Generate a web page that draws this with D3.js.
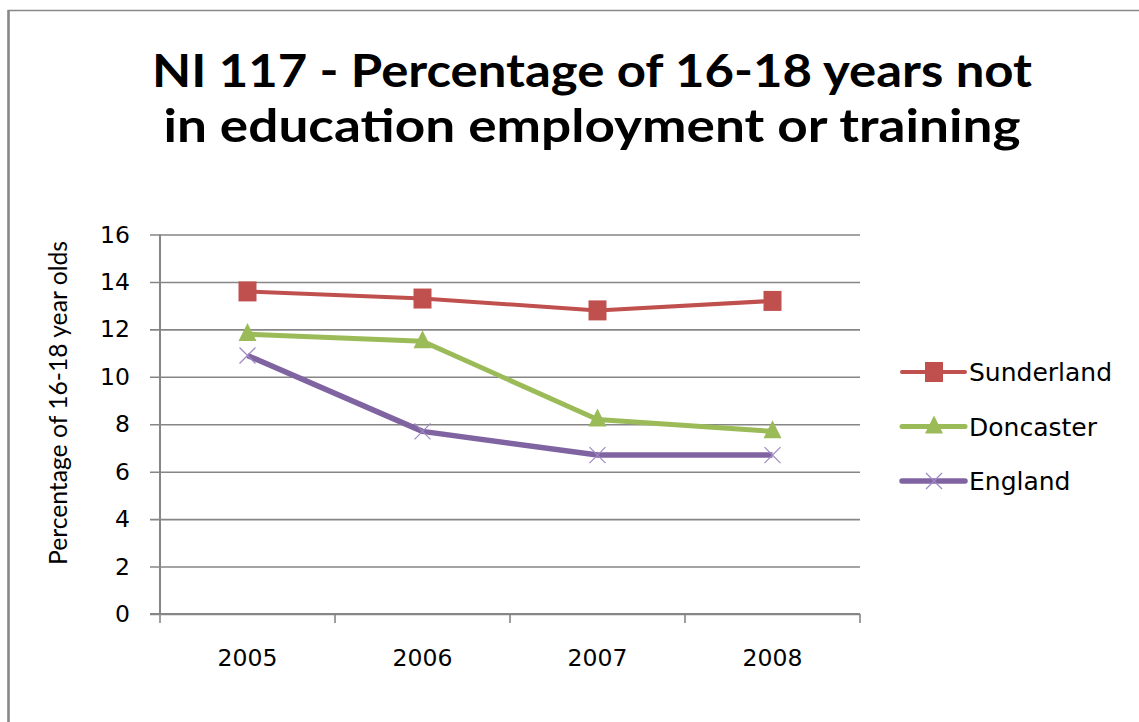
<!DOCTYPE html>
<html>
<head>
<meta charset="utf-8">
<script src="https://cdn.jsdelivr.net/npm/d3@7"></script>
<style>
  html, body { margin: 0; padding: 0; background: #fff; }
  svg { display: block; }
</style>
</head>
<body>
<svg id="chart" width="1139" height="722"></svg>
<script>
// NI 117 – share of 16-18 year olds not in education, employment or training
const years = ["2005", "2006", "2007", "2008"];
const sunderland = [13.6, 13.3, 12.8, 13.2];
const doncaster  = [11.8, 11.5, 8.2, 7.7];
const england    = [10.9, 7.7, 6.7, 6.7];
const seriesNames = ["Sunderland", "Doncaster", "England"];
const yTicks = [0, 2, 4, 6, 8, 10, 12, 14, 16];
const titleLines = [
  "NI 117 - Percentage of 16-18 years not",
  "in education employment or training"
];
const yAxisTitle = "Percentage of 16-18 year olds";

const series = [
  { name: seriesNames[0], values: sunderland, color: "#C0504D", width: 4,   marker: "square" },
  { name: seriesNames[1], values: doncaster,  color: "#9BBB59", width: 5,   marker: "triangle" },
  { name: seriesNames[2], values: england,    color: "#8064A2", width: 5.5, marker: "cross" }
];

const svg = d3.select("#chart");
const W = 1139, H = 722;
const plot = { left: 160, right: 860, top: 234.5, bottom: 614 };

// outer chart frame (top and left edges visible)
svg.append("rect").attr("x", 8.5).attr("y", 10.5)
  .attr("width", W + 20).attr("height", H + 20)
  .attr("fill", "#fff").attr("stroke", "#888").attr("stroke-width", 1.5);
svg.append("line").attr("x1", 8.5).attr("x2", 8.5).attr("y1", 10).attr("y2", H)
  .attr("stroke", "#888").attr("stroke-width", 2.5);

// title
const title = svg.append("text")
  .attr("text-anchor", "middle")
  .attr("font-family", "Lato, 'Open Sans', sans-serif")
  .attr("font-weight", "bold")
  .attr("font-size", 45)
  .attr("fill", "#000");
const titleLens = [880, 857];
titleLines.forEach((t, i) => {
  title.append("tspan")
    .attr("x", 592).attr("y", 87 + i * 55)
    .attr("textLength", titleLens[i])
    .attr("lengthAdjust", "spacingAndGlyphs")
    .text(t);
});

// scales
const x = d3.scaleBand().domain(years).range([plot.left, plot.right]).padding(0);
const y = d3.scaleLinear().domain([0, 16]).range([plot.bottom, plot.top]);
const cx = d => x(d) + x.bandwidth() / 2;

// horizontal gridlines (extend past the axis as tick marks)
const gridAxis = d3.axisLeft(y).tickValues(yTicks)
  .tickSize(-(plot.right - plot.left) - 10).tickFormat(d3.format("d"));
const gy = svg.append("g")
  .attr("transform", `translate(${plot.left - 10},0)`)
  .call(gridAxis);
gy.select(".domain").remove();
gy.selectAll(".tick line").attr("stroke", "#868686").attr("stroke-width", 1.6);
gy.selectAll(".tick text")
  .attr("x", -20)
  .attr("font-family", "'DejaVu Sans', sans-serif")
  .attr("font-size", 23.5).attr("fill", "#000");

// vertical axis line
svg.append("line")
  .attr("x1", plot.left).attr("x2", plot.left)
  .attr("y1", plot.top).attr("y2", plot.bottom)
  .attr("stroke", "#868686").attr("stroke-width", 2);

// x axis with ticks at category boundaries
const gx = svg.append("g").attr("transform", `translate(0,${plot.bottom})`);
gx.append("line")
  .attr("x1", plot.left - 10).attr("x2", plot.right)
  .attr("stroke", "#868686").attr("stroke-width", 2);
const bounds = years.map(d => x(d)).concat([plot.right]);
gx.selectAll("line.bt").data(bounds).join("line").attr("class", "bt")
  .attr("x1", d => d).attr("x2", d => d).attr("y1", 0).attr("y2", 9)
  .attr("stroke", "#868686").attr("stroke-width", 1.6);
gx.selectAll("text").data(years).join("text")
  .attr("x", d => cx(d)).attr("y", 52)
  .attr("text-anchor", "middle")
  .attr("font-family", "'DejaVu Sans', sans-serif")
  .attr("font-size", 23.5).attr("fill", "#000")
  .text(d => d);

// y axis title
svg.append("text")
  .attr("transform", `translate(67,403) rotate(-90)`)
  .attr("text-anchor", "middle")
  .attr("font-family", "Lato, 'Open Sans', sans-serif")
  .attr("font-size", 25)
  .attr("textLength", 324).attr("lengthAdjust", "spacingAndGlyphs")
  .attr("fill", "#000")
  .text(yAxisTitle);

// marker drawing
function drawMarker(g, type, color, px, py) {
  if (type === "square") {
    g.append("rect").attr("x", px - 9).attr("y", py - 10)
      .attr("width", 18).attr("height", 20).attr("fill", color);
  } else if (type === "triangle") {
    g.append("path")
      .attr("d", `M${px},${py - 11} L${px + 9},${py + 7} L${px - 9},${py + 7} Z`)
      .attr("fill", color);
  } else {
    g.append("path")
      .attr("d", `M${px - 8},${py - 8} L${px + 8},${py + 8} M${px - 8},${py + 8} L${px + 8},${py - 8}`)
      .attr("stroke", "#9E88C4").attr("stroke-width", 1.2).attr("fill", "none");
  }
}

// series lines + markers
const line = d3.line().x((d, i) => cx(years[i])).y(d => y(d));
series.forEach(s => {
  const g = svg.append("g");
  g.append("path").datum(s.values)
    .attr("d", line)
    .attr("fill", "none").attr("stroke", s.color)
    .attr("stroke-width", s.width).attr("stroke-linejoin", "round");
  s.values.forEach((v, i) => drawMarker(g, s.marker, s.color, cx(years[i]), y(v)));
});

// legend
const legend = svg.append("g");
series.forEach((s, i) => {
  const ly = 372 + i * 54.5;
  const g = legend.append("g");
  g.append("line").attr("x1", 902).attr("x2", 965).attr("y1", ly).attr("y2", ly)
    .attr("stroke", s.color).attr("stroke-width", s.width).attr("stroke-linecap", "round");
  drawMarker(g, s.marker, s.color, 934, ly);
  g.append("text").attr("x", 969).attr("y", ly + 9)
    .attr("font-family", "'DejaVu Sans', sans-serif")
    .attr("font-size", 25).attr("fill", "#000")
    .text(s.name);
});
</script>
</body>
</html>
